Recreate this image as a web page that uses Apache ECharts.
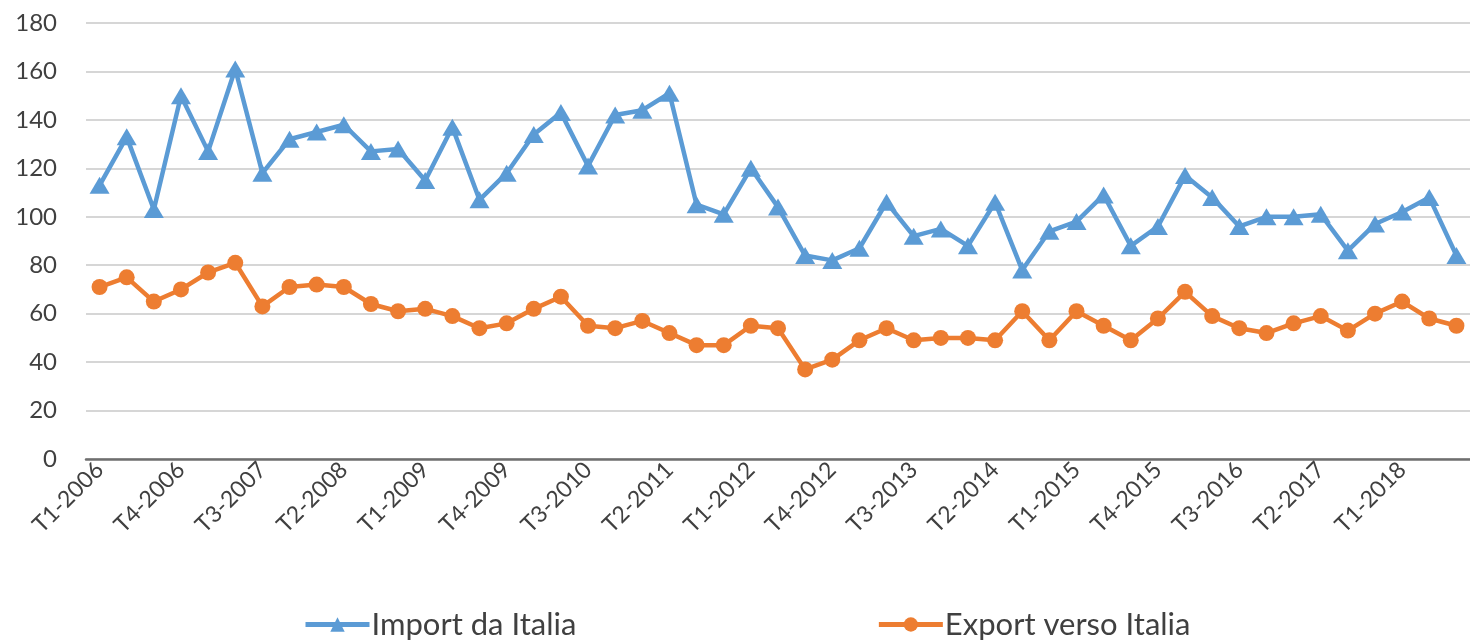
<!DOCTYPE html>
<html>
<head>
<meta charset="utf-8">
<script src="https://cdn.jsdelivr.net/npm/echarts@6/dist/echarts.min.js"></script>
<style>
html,body{margin:0;padding:0;background:#fff;}
#c{width:1470px;height:640px;}
</style>
</head>
<body>
<div id="c"></div>
<script>
const years = [2006,2007,2008,2009,2010,2011,2012,2013,2014,2015,2016,2017,2018];
const categories = [];
for (const y of years) { for (let q = 1; q <= 4; q++) { if (categories.length < 51) categories.push('T' + q + '-' + y); } }

const importDaItalia = [113,133,103,150,127,161,118,132,135,138,
                        127,128,115,137,107,118,134,143,121,142,
                        144,151,105,101,120,104,84,82,87,106,
                        92,95,88,106,78,94,98,109,88,96,
                        117,108,96,100,100,101,86,97,102,108,
                        84];
const exportVersoItalia = [71,75,65,70,77,81,63,71,72,71,
                           64,61,62,59,54,56,62,67,55,54,
                           57,52,47,47,55,54,37,41,49,54,
                           49,50,50,49,61,49,61,55,49,58,
                           69,59,54,52,56,59,53,60,65,58,
                           55];
const yTicks = {min: 0, max: 180, interval: 20};
const seriesNames = ['Import da Italia', 'Export verso Italia'];

const FONT = 'Lato, "Open Sans", sans-serif';
const chart = echarts.init(document.getElementById('c'), null, {renderer: 'canvas'});
chart.setOption({
  animation: false,
  backgroundColor: '#ffffff',
  grid: {left: 86, right: 0, top: 23, bottom: 181, containLabel: false},
  legend: {
    top: 604,
    left: 298,
    itemGap: 300,
    itemWidth: 64,
    itemHeight: 18,
    lineStyle: {width: 5},
    textStyle: {fontFamily: FONT, fontSize: 31, color: '#404040', padding: [0,0,0,-3]},
    data: seriesNames
  },
  xAxis: {
    type: 'category',
    data: categories,
    boundaryGap: true,
    axisLine: {lineStyle: {color: '#6f6f6f', width: 2.5}},
    axisTick: {show: false},
    axisLabel: {interval: 2, rotate: 45, fontFamily: FONT, fontSize: 23, color: '#404040', margin: 7}
  },
  yAxis: {
    type: 'value',
    min: yTicks.min, max: yTicks.max, interval: yTicks.interval,
    axisLine: {show: false},
    axisTick: {show: false},
    splitLine: {lineStyle: {color: '#c8c8c8', width: 1.5}},
    axisLabel: {fontFamily: FONT, fontSize: 24, color: '#404040', margin: 29}
  },
  series: [
    {
      name: seriesNames[0], type: 'line', data: importDaItalia,
      symbol: 'triangle', symbolSize: [20, 17], showAllSymbol: true,
      lineStyle: {color: '#5B9BD5', width: 4.5},
      itemStyle: {color: '#5B9BD5'}
    },
    {
      name: seriesNames[1], type: 'line', data: exportVersoItalia,
      symbol: 'circle', symbolSize: 16, showAllSymbol: true,
      lineStyle: {color: '#ED7D31', width: 4.5},
      itemStyle: {color: '#ED7D31'}
    }
  ]
});
</script>
</body>
</html>
